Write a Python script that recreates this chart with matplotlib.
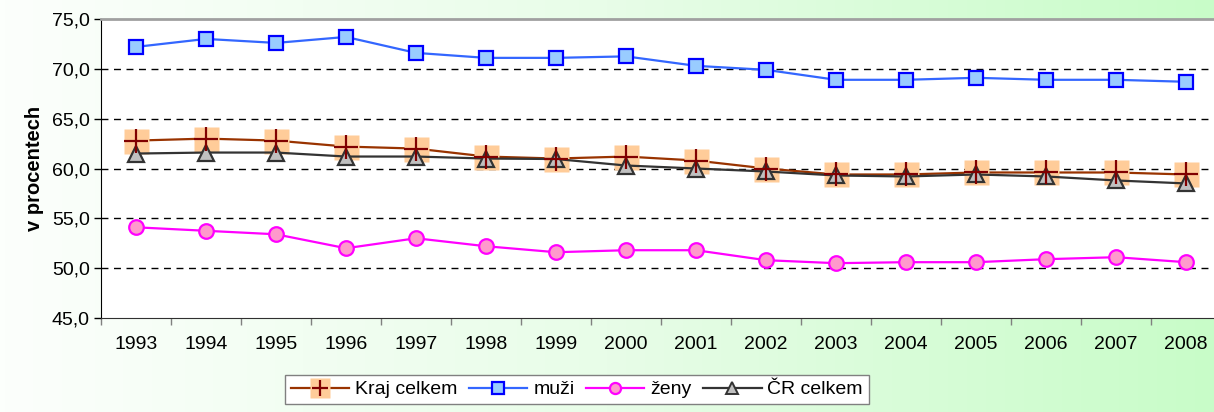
import numpy as np
import matplotlib
matplotlib.use("Agg")
import matplotlib.pyplot as plt
from matplotlib.ticker import FuncFormatter, FixedLocator
from matplotlib.colors import LinearSegmentedColormap
from matplotlib.lines import Line2D

years = ["1993", "1994", "1995", "1996", "1997", "1998", "1999", "2000",
         "2001", "2002", "2003", "2004", "2005", "2006", "2007", "2008"]
kraj = [62.8, 63.0, 62.8, 62.2, 62.0, 61.2, 61.0, 61.2, 60.8, 60.0, 59.4, 59.4, 59.6, 59.6, 59.6, 59.4]
muzi = [72.2, 73.0, 72.6, 73.2, 71.6, 71.1, 71.1, 71.25, 70.3, 69.9, 68.9, 68.9, 69.1, 68.9, 68.9, 68.7]
zeny = [54.1, 53.75, 53.4, 52.0, 53.0, 52.2, 51.6, 51.8, 51.8, 50.8, 50.5, 50.6, 50.6, 50.9, 51.1, 50.6]
cr = [61.5, 61.6, 61.6, 61.2, 61.2, 61.0, 60.95, 60.3, 60.0, 59.7, 59.3, 59.2, 59.4, 59.2, 58.8, 58.5]
yticks = [45.0, 50.0, 55.0, 60.0, 65.0, 70.0, 75.0]

plt.rcParams['font.family'] = ['Liberation Sans', 'DejaVu Sans']

W, H = 1214, 412
fig = plt.figure(figsize=(W / 100, H / 100), dpi=100)

# background gradient
bg = fig.add_axes([0, 0, 1, 1], zorder=-10)
bg.set_axis_off()
cmap = LinearSegmentedColormap.from_list("g", ["#FCFFFC", "#E8FDE8", "#C8FCC8"])
grad = np.linspace(0, 1, 256).reshape(1, -1)
bg.imshow(grad, aspect="auto", cmap=cmap, extent=[0, 1, 0, 1])
bg.set_xlim(0, 1)
bg.set_ylim(0, 1)

left = 101 / W
right = 1221 / W
bottom = 1 - 318 / H
top = 1 - 19 / H
ax = fig.add_axes([left, bottom, right - left, top - bottom])
ax.set_facecolor("white")

x = np.arange(len(years))

ax.plot(x, kraj, color="#993300", lw=1.6, zorder=3)
ax.plot(x, kraj, ls="none", marker="s", ms=18, mfc="#FFCC99", mec="none", zorder=3)
ax.plot(x, cr, color="#333333", lw=1.6, zorder=4)
ax.plot(x, cr, ls="none", marker="^", ms=12, mfc="#C0C0C0", mec="#333333", mew=1.6, zorder=4)
ax.plot(x, kraj, ls="none", marker="+", ms=17, mec="#800000", mew=1.6, zorder=5)
ax.plot(x, muzi, color="#3366FF", lw=1.6, marker="s", ms=10.5, mfc="#99CCFF", mec="#0000FF", mew=1.6, zorder=4)
ax.plot(x, zeny, color="#FF00FF", lw=1.6, marker="o", ms=10.5, mfc="#FF99CC", mec="#FF00FF", mew=1.6, zorder=4)

ax.set_xlim(-0.5, len(years) - 0.5)
ax.set_ylim(45, 75)
ax.yaxis.set_major_locator(FixedLocator(yticks))
ax.yaxis.set_major_formatter(FuncFormatter(lambda v, p: f"{v:.1f}".replace(".", ",")))
ax.set_xticks(x)
ax.set_xticklabels(years)
ax.set_xticks(np.arange(-0.5, len(years), 1.0), minor=True)
ax.tick_params(axis="x", which="major", length=0, pad=13, labelsize=14)
ax.tick_params(axis="x", which="minor", length=5, width=1, color="#808080", direction="out")
ax.tick_params(axis="y", length=5, width=1, labelsize=14, pad=3, direction="out")

for v in [50, 55, 60, 65, 70]:
    ax.axhline(v, color="black", lw=1, ls=(0, (5, 4)), zorder=1)

ax.spines["top"].set_color("#A0A0A0")
ax.spines["top"].set_linewidth(2)
ax.spines["left"].set_color("black")
ax.spines["bottom"].set_color("#303030")
ax.spines["right"].set_visible(False)

ax.set_ylabel("v procentech", fontsize=14.5, fontweight="bold", labelpad=6)

h_kraj = (Line2D([], [], color="#993300", lw=1.6, marker="s", ms=14, mfc="#FFCC99", mec="none"),
          Line2D([], [], ls="none", marker="+", ms=12, mec="#800000", mew=1.6))
h_muzi = Line2D([], [], color="#3366FF", lw=1.6, marker="s", ms=8, mfc="#99CCFF", mec="#0000FF", mew=1.6)
h_zeny = Line2D([], [], color="#FF00FF", lw=1.6, marker="o", ms=8, mfc="#FF99CC", mec="#FF00FF", mew=1.6)
h_cr = Line2D([], [], color="#333333", lw=1.6, marker="^", ms=8, mfc="#C0C0C0", mec="#333333", mew=1.4)
leg = fig.legend([h_kraj, h_muzi, h_zeny, h_cr], ["Kraj celkem", "muži", "ženy", "ČR celkem"],
                 loc="upper left", bbox_to_anchor=(285 / W, 1 - 375 / H), ncol=4,
                 frameon=True, fancybox=False, fontsize=14, handlelength=3.0,
                 handletextpad=0.3, columnspacing=0.6, borderpad=0.3, borderaxespad=0)
leg.get_frame().set_edgecolor("#808080")
leg.get_frame().set_linewidth(1)
leg.get_frame().set_facecolor("white")
leg.get_frame().set_alpha(1)

fig.savefig("out.png", dpi=100)
